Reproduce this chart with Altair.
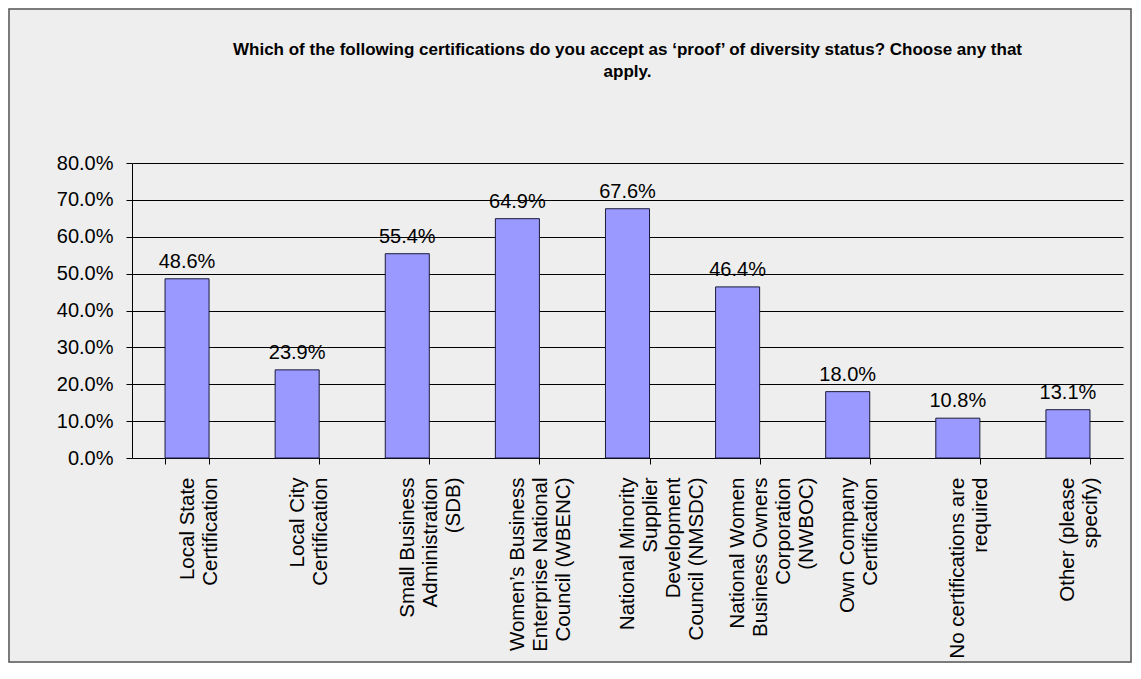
import altair as alt
import pandas as pd

categories = [
    "Local State|Certification",
    "Local City|Certification",
    "Small Business|Administration|(SDB)",
    "Women\u2019s Business|Enterprise National|Council (WBENC)",
    "National Minority|Supplier|Development|Council (NMSDC)",
    "National Women|Business Owners|Corporation|(NWBOC)",
    "Own Company|Certification",
    "No certifications are|required",
    "Other (please|specify)",
]
values = [0.486, 0.239, 0.554, 0.649, 0.676, 0.464, 0.180, 0.108, 0.131]
y_ticks = [0.0, 0.1, 0.2, 0.3, 0.4, 0.5, 0.6, 0.7, 0.8]
title_lines = [
    "Which of the following certifications do you accept as \u2018proof\u2019 of diversity status? Choose any that",
    "apply.",
]

FONT = "Liberation Sans"
PLOT_W, PLOT_H = 991, 295
PAD_L, PAD_T, PAD_R, PAD_B = 124, 155, 9, 205

df = pd.DataFrame({"cat": categories, "value": values})

x_enc = alt.X(
    "cat:N",
    sort=categories,
    scale=alt.Scale(paddingInner=0.6, paddingOuter=0.3),
    axis=alt.Axis(
        title=None,
        labelAngle=-90,
        labelExpr="split(datum.label, '|')",
        labelFont=FONT,
        labelFontSize=20.5,
        labelLineHeight=23,
        labelPadding=13,
        labelLimit=400,
        labelColor="black",
        labelOverlap=False,
        tickBand="extent",
        tickSize=6,
        tickColor="black",
        domainColor="black",
        grid=False,
    ),
)
y_enc = alt.Y(
    "value:Q",
    scale=alt.Scale(domain=[0, 0.8]),
    axis=alt.Axis(
        title=None,
        format=".1%",
        values=y_ticks,
        labelOverlap=False,
        grid=True,
        gridColor="black",
        gridWidth=1,
        tickSize=6,
        tickColor="black",
        domainColor="black",
        labelFont=FONT,
        labelFontSize=20,
        labelColor="black",
        labelPadding=13,
    ),
)

bars = alt.Chart(df).mark_bar(
    color="#9999FF", stroke="#1a1a3a", strokeWidth=1
).encode(x=x_enc, y=y_enc)

labels = alt.Chart(df).mark_text(
    baseline="alphabetic", dy=-11, fontSize=20, font=FONT, color="black"
).encode(
    x=x_enc,
    y=y_enc,
    text=alt.Text("value:Q", format=".1%"),
)

frame = alt.Chart(pd.DataFrame({"f": [0]})).mark_rect(
    fillOpacity=0, stroke="#555555", strokeWidth=1.5
).encode(
    x=alt.value(-PAD_L + 1),
    x2=alt.value(PLOT_W + PAD_R - 1),
    y=alt.value(-PAD_T + 1),
    y2=alt.value(PLOT_H + PAD_B - 1),
)

chart = alt.layer(bars, labels, frame).properties(
    width=PLOT_W,
    height=PLOT_H,
    autosize=alt.AutoSizeParams(type="none"),
    padding={"left": PAD_L, "top": PAD_T, "right": PAD_R, "bottom": PAD_B},
    background="#EEEEEE",
    title=alt.TitleParams(
        text=title_lines,
        font=FONT,
        fontSize=17,
        fontWeight="bold",
        color="black",
        anchor="middle",
        frame="group",
        lineHeight=22,
        offset=-73,
    ),
).configure_view(stroke=None)

chart.save("out.html", embed_options={"renderer": "svg", "actions": False})
